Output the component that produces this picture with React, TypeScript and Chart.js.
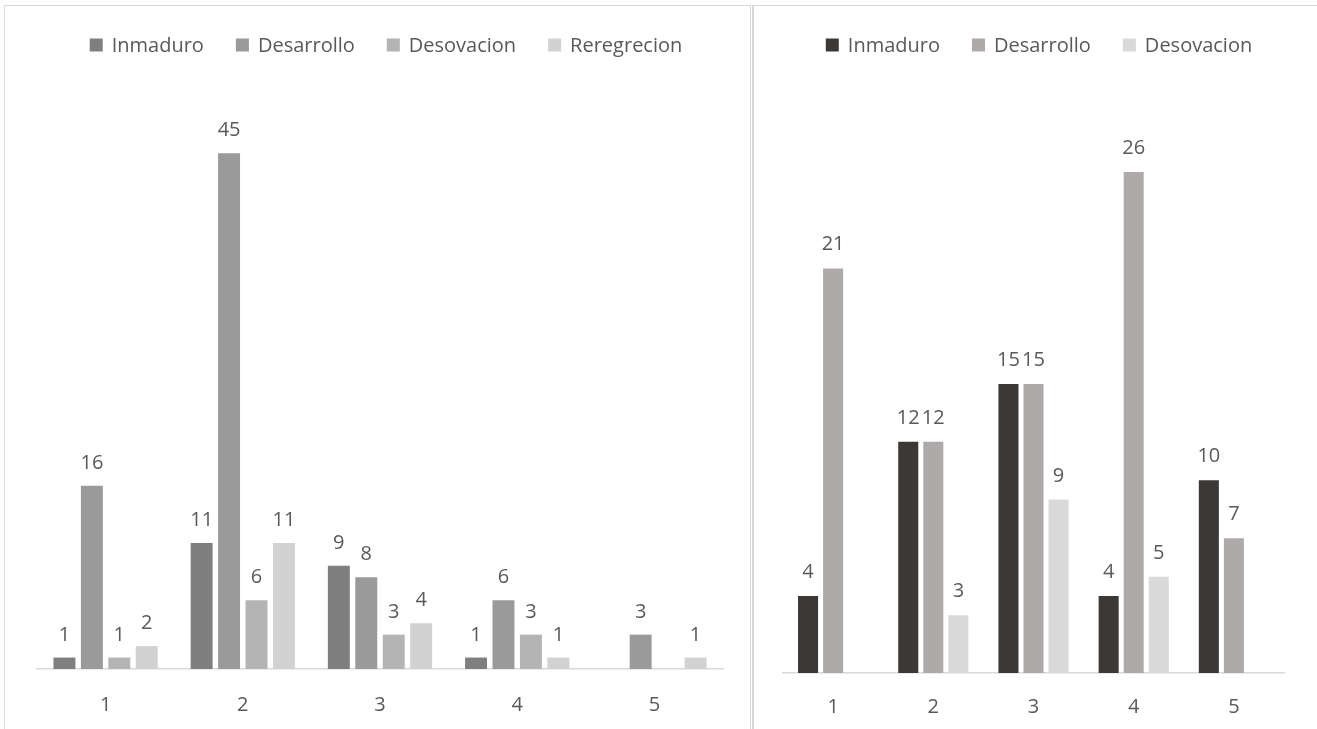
import React, { useEffect, useRef } from "react";
import { Chart, registerables } from "chart.js";

Chart.register(...registerables);

// ---------- Data ----------
const categories = ["1", "2", "3", "4", "5"];

const leftInmaduro = [1, 11, 9, 1, null];
const leftDesarrollo = [16, 45, 8, 6, 3];
const leftDesovacion = [1, 6, 3, 3, null];
const leftReregrecion = [2, 11, 4, 1, 1];

const rightInmaduro = [4, 12, 15, 4, 10];
const rightDesarrollo = [21, 12, 15, 26, 7];
const rightDesovacion = [null, 3, 9, 5, null];

const FONT = "'Open Sans', 'DejaVu Sans', sans-serif";
const TEXT = "#595959";

const valueLabels = {
  id: "valueLabels",
  afterDatasetsDraw(chart: any, _args: any, opts: any) {
    const ctx = chart.ctx;
    ctx.save();
    ctx.font = `${opts.size}px ${FONT}`;
    ctx.fillStyle = TEXT;
    ctx.textAlign = "center";
    ctx.textBaseline = "alphabetic";
    chart.data.datasets.forEach((ds: any, i: number) => {
      const meta = chart.getDatasetMeta(i);
      meta.data.forEach((el: any, j: number) => {
        const v = ds.data[j];
        if (v == null) return;
        ctx.fillText(String(v), el.x, el.y - opts.offset);
      });
    });
    ctx.restore();
  },
};

const customLegend = {
  id: "customLegend",
  afterDraw(chart: any, _args: any, opts: any) {
    const ctx = chart.ctx;
    ctx.save();
    ctx.font = `${opts.size}px ${FONT}`;
    ctx.textBaseline = "middle";
    ctx.textAlign = "left";
    const box = opts.box;
    const gapBox = opts.gapBox;
    const gapItem = opts.gapItem;
    const items = chart.data.datasets.map((d: any) => ({
      label: d.label,
      color: d.backgroundColor,
      w: ctx.measureText(d.label).width,
    }));
    let total = 0;
    items.forEach((it: any, i: number) => {
      total += box + gapBox + it.w + (i > 0 ? gapItem : 0);
    });
    let x = opts.centerX - total / 2;
    const y = opts.centerY;
    items.forEach((it: any) => {
      ctx.fillStyle = it.color;
      ctx.fillRect(x, y - box / 2, box, box);
      x += box + gapBox;
      ctx.fillStyle = TEXT;
      ctx.fillText(it.label, x, y + 1);
      x += it.w + gapItem;
    });
    ctx.restore();
  },
};

function makeConfig(
  datasets: any[],
  yMax: number,
  catPct: number,
  padding: any,
  tickPad: number,
  labelSize: number,
  labelOffset: number,
  legendCX: number,
  legendCY: number
): any {
  return {
    type: "bar",
    data: { labels: categories, datasets },
    options: {
      responsive: false,
      animation: false,
      layout: { padding },
      plugins: {
        legend: { display: false },
        tooltip: { enabled: false },
        valueLabels: { size: labelSize, offset: labelOffset },
        customLegend: {
          size: 20,
          box: 13,
          gapBox: 9,
          gapItem: 32,
          centerX: legendCX,
          centerY: legendCY,
        },
      },
      datasets: {
        bar: { categoryPercentage: catPct, barPercentage: 0.8 },
      },
      scales: {
        x: {
          grid: { display: false, drawTicks: false },
          border: { display: true, color: "#d9d9d9", width: 1.5 },
          ticks: { color: TEXT, font: { family: FONT, size: 20 }, padding: tickPad },
        },
        y: { display: false, min: 0, max: yMax },
      },
    },
    plugins: [valueLabels, customLegend],
  };
}

function ChartCanvas({ config, width, height }: { config: any; width: number; height: number }) {
  const ref = useRef<HTMLCanvasElement | null>(null);
  useEffect(() => {
    if (!ref.current) return;
    const chart = new Chart(ref.current, config);
    return () => chart.destroy();
  }, [config]);
  return <canvas ref={ref} width={width} height={height} style={{ display: "block", width, height }} />;
}

const leftConfig = makeConfig(
  [
    { label: "Inmaduro", data: leftInmaduro, backgroundColor: "#7f7f7f" },
    { label: "Desarrollo", data: leftDesarrollo, backgroundColor: "#9a9a9a" },
    { label: "Desovacion", data: leftDesovacion, backgroundColor: "#b4b4b4" },
    { label: "Reregrecion", data: leftReregrecion, backgroundColor: "#d2d2d2" },
  ],
  50,
  0.8,
  { top: 90, left: 32, right: 27, bottom: 8 },
  24,
  20,
  17,
  381,
  39
);

const rightConfig = makeConfig(
  [
    { label: "Inmaduro", data: rightInmaduro, backgroundColor: "#3b3836" },
    { label: "Desarrollo", data: rightDesarrollo, backgroundColor: "#aeaaaa" },
    { label: "Desovacion", data: rightDesovacion, backgroundColor: "#d9d9d9" },
  ],
  30,
  0.75,
  { top: 89, left: 29, right: 32, bottom: 8 },
  22,
  20,
  18,
  285,
  39
);

export default function App() {
  return (
    <div
      style={{
        position: "absolute",
        left: 0,
        top: 0,
        width: 1317,
        height: 729,
        overflow: "hidden",
        background: "#ffffff",
      }}
    >
      <div
        style={{
          position: "absolute",
          left: 4,
          top: 5,
          width: 745,
          height: 760,
          borderTop: "1px solid #d9d9d9",
          borderLeft: "1px solid #d9d9d9",
          borderRight: "1px solid #d9d9d9",
        }}
      >
        <ChartCanvas config={leftConfig} width={745} height={743} />
      </div>
      <div
        style={{
          position: "absolute",
          left: 752,
          top: 5,
          width: 600,
          height: 760,
          borderTop: "1px solid #d9d9d9",
          borderLeft: "2px solid #d9d9d9",
        }}
      >
        <ChartCanvas config={rightConfig} width={562} height={743} />
      </div>
    </div>
  );
}
